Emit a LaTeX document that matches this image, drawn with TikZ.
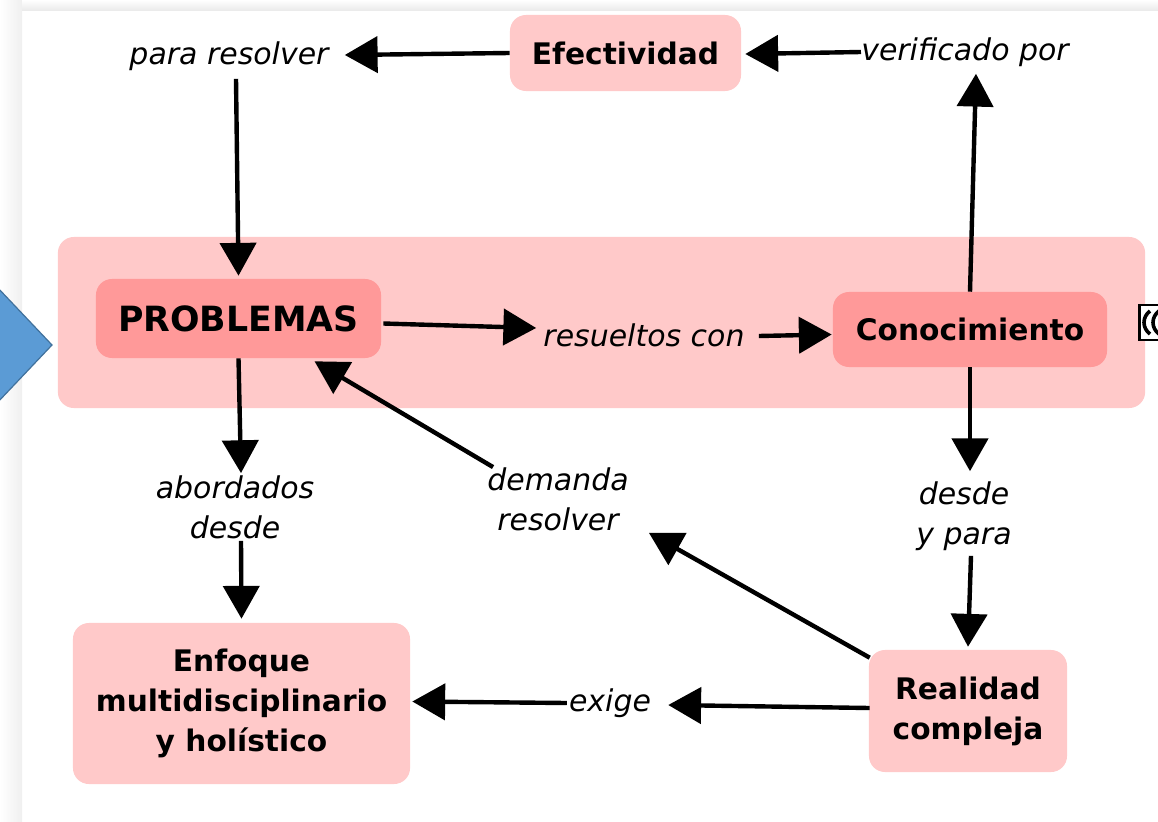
\documentclass[tikz,border=0pt]{standalone}
\usepackage{fontspec}
\setmainfont{DejaVu Sans}
\usepackage{tikz}
\usetikzlibrary{positioning,arrows.meta,calc}
\definecolor{rosa}{HTML}{FFC9C9}
\definecolor{rosafuerte}{HTML}{FF9999}
\definecolor{azul}{HTML}{5B9BD5}
\definecolor{azulborde}{HTML}{41719C}
\tikzset{
    concepto/.style={rectangle, rounded corners=0.4cm, fill=rosa, align=center, font=\fontsize{21.1}{28.5}\selectfont\bfseries},
    frase/.style={align=center, inner sep=0pt, font=\fontsize{21.3}{28.5}\selectfont\itshape},
    flecha/.style={-{Triangle[length=0.82cm,width=0.9cm]}, line width=0.11cm, black},
}
\begin{document}
\begin{tikzpicture}[x=0.025cm,y=-0.025cm]
    \useasboundingbox (0,0) rectangle (1158,822);
    \clip (0,0) rectangle (1158,822);
    % marco gris de la ventana
    \shade[left color=white, right color=black!6] (0,0) rectangle (22,822);
    \shade[top color=white, bottom color=black!8] (22,0) rectangle (1158,10);

    \node[concepto, minimum width=27.175cm, minimum height=4.275cm] (contexto) at (601.5,322.5) {};
    \fill[azul, draw=azulborde, line width=0.03cm] (-3,287) -- (52,345) -- (-3,403) -- cycle;

    \node[concepto, fill=rosafuerte, minimum width=7.125cm, minimum height=1.975cm, font=\fontsize{24.7}{29}\selectfont\bfseries] (problemas) at (238.5,318.5) {PROBLEMAS};
    \node[concepto, fill=rosafuerte, minimum width=6.85cm, minimum height=1.875cm] (conocimiento) at (970,329.5) {Conocimiento};
    \node[concepto, minimum width=5.775cm, minimum height=1.9cm] (efectividad) at (625.5,53) {Efectividad};
    \node[concepto, minimum width=8.425cm, minimum height=4.025cm] (enfoque) at (241.5,703.5) {Enfoque\\multidisciplinario\\y holístico};
    \node[concepto, minimum width=4.95cm, minimum height=3.05cm] (realidad) at (968,711) {Realidad\\compleja};

    \node[frase] (pararesolver) at (229,56) {para resolver};
    \node[frase] (verificado) at (965,52) {verificado por};
    \node[frase] (resueltos) at (644,335) {resueltos con};
    \node[frase] (abordados) at (235,507) {abordados\\desde};
    \node[frase] (demanda) at (558,499) {demanda\\resolver};
    \node[frase] (desde) at (964,516) {desde\\y para};
    \node[frase] (exige) at (610,703) {exige};

    \draw[flecha] (efectividad.west) -- ($(pararesolver.east)+(16,-1)$);
    \draw[flecha] (verificado.west) -- ($(efectividad.east)+(4,1)$);
    \draw[flecha] ($(conocimiento.north)+(0,0)$) -- ($(verificado.south)+(11,7)$);
    \draw[flecha] ($(pararesolver.south)+(7,8)$) -- ($(problemas.north)+(0,-3)$);
    \draw[flecha] ($(problemas.east)+(2,5)$) -- ($(resueltos.west)+(-7,-7)$);
    \draw[flecha] ($(resueltos.east)+(14,1)$) -- ($(conocimiento.west)+(-1,5)$);
    \draw[flecha] (conocimiento.south) -- ($(desde.north)+(6,-10)$);
    \draw[flecha] ($(desde.south)+(7,5)$) -- ($(realidad.north)+(0,-3)$);
    \draw[flecha] ($(realidad.north west)+(1,8)$) -- ($(demanda.south east)+(20,2)$);
    \draw[flecha] ($(demanda.north west)+(6,0)$) -- ($(problemas.south)+(76,3)$);
    \draw[flecha] (problemas.south) -- ($(abordados.north)+(6,-2)$);
    \draw[flecha] ($(abordados.south)+(6,2)$) -- ($(enfoque.north)+(0,-4)$);
    \draw[flecha] ($(realidad.west)+(1,-3)$) -- ($(exige.east)+(17,2)$);
    \draw[flecha] ($(exige.west)+(-2,0)$) -- ($(enfoque.east)+(2,-2)$);

    % icono de sonido
    \node[draw=black, fill=white, line width=0.07cm, minimum width=1cm, minimum height=0.875cm, anchor=west] (icono) at (1138,322.5) {};
    \draw[line width=0.09cm] (1150,311) .. controls (1142,317) and (1142,328) .. (1150,334);
    \draw[line width=0.09cm] (1159,311) .. controls (1151,317) and (1151,328) .. (1159,334);
\end{tikzpicture}
\end{document}
